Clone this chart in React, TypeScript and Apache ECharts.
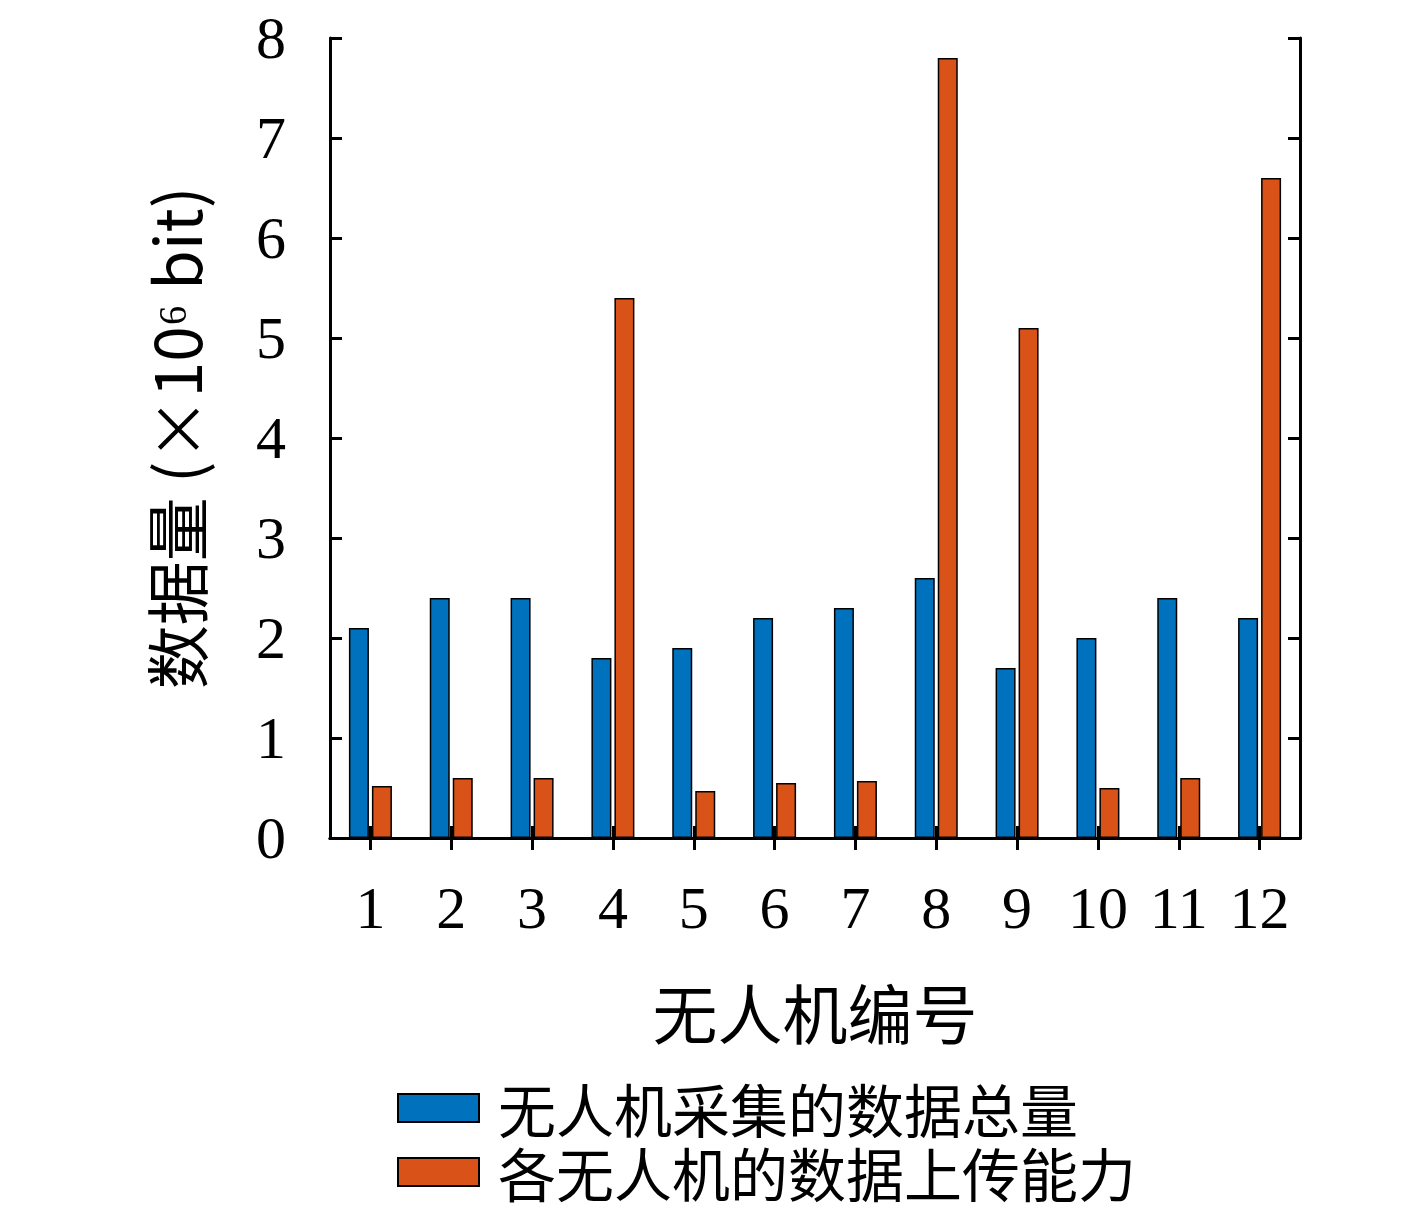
import React, { useEffect, useRef } from "react";
import * as echarts from "echarts";

const categories = ["1", "2", "3", "4", "5", "6", "7", "8", "9", "10", "11", "12"];
const collected = [2.1, 2.4, 2.4, 1.8, 1.9, 2.2, 2.3, 2.6, 1.7, 2.0, 2.4, 2.2];
const uploadCap = [0.52, 0.6, 0.6, 5.4, 0.47, 0.55, 0.57, 7.8, 5.1, 0.5, 0.6, 6.6];
const seriesNames = ["无人机采集的数据总量", "各无人机的数据上传能力"];
const yTicks = [0, 1, 2, 3, 4, 5, 6, 7, 8];

const SERIF = "'Liberation Serif', 'DejaVu Serif', serif";
const CJK = "'Noto Sans CJK SC', 'Liberation Serif', serif";

export default function App() {
  const ref = useRef<HTMLDivElement>(null);
  useEffect(() => {
    document.body.style.margin = "0";
    if (!ref.current) return;
    const chart = echarts.init(ref.current, undefined, { renderer: "svg" });
    const axisLine = { show: true, lineStyle: { color: "#000", width: 3 } };
    const tick = { show: true, inside: true, length: 12, lineStyle: { color: "#000", width: 3 } };
    const legendText = { fontFamily: CJK, fontSize: 58, lineHeight: 58, color: "#000", padding: [0, 0, 0, 14] };
    chart.setOption({
      animation: false,
      backgroundColor: "#ffffff",
      grid: { left: 330, right: 117, top: 38, bottom: 371 },
      legend: [
        {
          left: 397,
          top: 1079,
          padding: 0,
          itemWidth: 81,
          itemHeight: 28,
          icon: "rect",
          data: [seriesNames[0]],
          itemStyle: { borderColor: "#000", borderWidth: 2 },
          textStyle: legendText,
        },
        {
          left: 397,
          top: 1143,
          padding: 0,
          itemWidth: 81,
          itemHeight: 28,
          icon: "rect",
          data: [seriesNames[1]],
          itemStyle: { borderColor: "#000", borderWidth: 2 },
          textStyle: legendText,
        },
      ],
      xAxis: [
        {
          type: "category",
          data: categories,
          position: "bottom",
          axisLine,
          axisTick: { ...tick, alignWithLabel: true },
          axisLabel: { fontFamily: SERIF, fontSize: 60, color: "#000", margin: 40 },
          name: "无人机编号",
          nameLocation: "middle",
          nameGap: 140,
          nameTextStyle: { fontFamily: CJK, fontSize: 65, color: "#000" },
        },
        {
          type: "category",
          data: categories,
          position: "top",
          axisLine,
          axisTick: { ...tick, alignWithLabel: true },
          axisLabel: { show: false },
        },
      ],
      yAxis: [
        {
          type: "value",
          min: 0,
          max: 8,
          interval: 1,
          position: "left",
          axisLine,
          splitLine: { show: false },
          axisTick: tick,
          axisLabel: {
            fontFamily: SERIF,
            fontSize: 60,
            color: "#000",
            margin: 44,
            formatter: (v: number) => (yTicks.includes(v) ? String(v) : ""),
          },
          name: "数据量 (×10⁶ bit)",
          nameLocation: "middle",
          nameGap: 124,
          nameRotate: 90,
          nameTextStyle: { fontFamily: CJK, fontSize: 64, color: "#000" },
        },
        {
          type: "value",
          min: 0,
          max: 8,
          interval: 1,
          position: "right",
          axisLine,
          splitLine: { show: false },
          axisTick: tick,
          axisLabel: { show: false },
        },
      ],
      series: [
        {
          name: seriesNames[0],
          type: "bar",
          data: collected,
          barWidth: 20,
          barGap: "15%",
          itemStyle: { color: "#0072BD", borderColor: "#000", borderWidth: 1.5 },
        },
        {
          name: seriesNames[1],
          type: "bar",
          data: uploadCap,
          barWidth: 20,
          barGap: "15%",
          itemStyle: { color: "#D95319", borderColor: "#000", borderWidth: 1.5 },
        },
      ],
    });
    return () => chart.dispose();
  }, []);
  return <div ref={ref} style={{ width: 1417, height: 1209 }} />;
}
